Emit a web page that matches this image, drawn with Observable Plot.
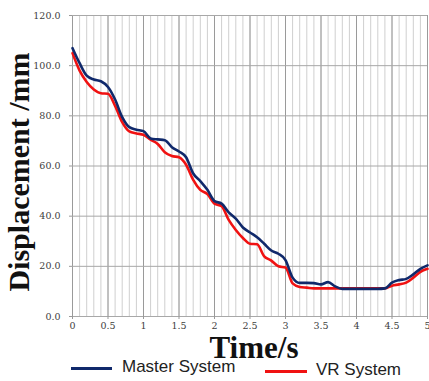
<!DOCTYPE html>
<html>
<head>
<meta charset="utf-8">
<script src="https://cdn.jsdelivr.net/npm/d3@7"></script>
<script src="https://cdn.jsdelivr.net/npm/@observablehq/plot@0.6"></script>
<style>
  html, body { margin: 0; padding: 0; background: #fff; }
  #wrap { position: relative; width: 429px; height: 381px; }
  .leg { position: absolute; font-family: "Liberation Sans", Arial, sans-serif; font-size: 17px; color: #222; line-height: 1; }
  .sw { position: absolute; height: 3px; }
</style>
</head>
<body>
<div id="wrap"></div>
<script>
const time = [0,0.1,0.2,0.3,0.4,0.5,0.6,0.7,0.8,0.9,1.0,1.1,1.2,1.3,1.4,1.5,1.6,1.7,1.8,1.9,2.0,2.1,2.2,2.3,2.4,2.5,2.6,2.7,2.8,2.9,3.0,3.1,3.2,3.3,3.4,3.5,3.6,3.7,3.8,3.9,4.0,4.1,4.2,4.3,4.4,4.5,4.6,4.7,4.8,4.9,5.0];
const master = [107,101,96,94.5,93.8,91.5,86.5,79.5,75.5,74.5,73.9,71,70.6,70.3,67.5,65.8,63.5,57,54,50.5,46,45,41.5,39,35.5,33.5,31.6,29,26.3,25,22.5,15.5,13.4,13.4,13.3,12.8,13.7,12,11,11,11,11,11,11,11.2,13.5,14.5,15,16.8,19,20.4];
const vr = [105,98,93.5,90.5,89,88.8,84,77.5,73.8,73,72.4,70.5,68.8,65.5,64,63.5,60.5,54.5,50.5,48.8,45,44,38.5,34.5,31.3,29,28.8,24,22.3,20,19.5,13.2,11.8,11.5,11.2,11.2,11.2,11.2,11.2,11.2,11.2,11.2,11.2,11.2,11.2,12.3,12.8,13.5,15.5,17.8,19.0];
const seriesNames = ["Master System", "VR System"];
const seriesColors = ["#10296b", "#f01212"];
const yTicks = [0,20,40,60,80,100,120];
const xTicks = [0,0.5,1,1.5,2,2.5,3,3.5,4,4.5,5];
const xMinor = d3.range(0, 51).map(i => i / 10);
const xTitle = ["Time/s"];
const yTitle = ["Displacement /mm"];

const rows = [];
time.forEach((t, i) => {
  rows.push({t, v: master[i], s: seriesNames[0]});
  rows.push({t, v: vr[i], s: seriesNames[1]});
});

const chart = Plot.plot({
  width: 429,
  height: 358,
  marginLeft: 72,
  marginRight: 2,
  marginTop: 15,
  marginBottom: 42,
  x: {domain: [0, 5]},
  y: {domain: [0, 120]},
  style: {fontFamily: "'DejaVu Serif', serif", fontSize: "9.5px", color: "#404040", background: "#fff", overflow: "visible"},
  marks: [
    Plot.gridX(xMinor, {stroke: "#cfcfcf", strokeOpacity: 1, strokeWidth: 1}),
    Plot.gridX(xTicks, {stroke: "#9a9a9a", strokeOpacity: 1, strokeWidth: 1}),
    Plot.gridY(yTicks, {stroke: "#a8a8a8", strokeOpacity: 1, strokeWidth: 1}),
    Plot.axisY(yTicks, {tickSize: 3, tickPadding: 9, tickFormat: d3.format(".1f"), label: null, stroke: "#999"}),
    Plot.axisX(xTicks, {tickSize: 3, tickPadding: 3, tickFormat: d => String(d), label: null, stroke: "#999"}),
    Plot.line(rows.filter(d => d.s === seriesNames[1]), {x: "t", y: "v", stroke: seriesColors[1], strokeWidth: 2.6, curve: "monotone-x"}),
    Plot.line(rows.filter(d => d.s === seriesNames[0]), {x: "t", y: "v", stroke: seriesColors[0], strokeWidth: 2.6, curve: "monotone-x"}),
    Plot.text(xTitle, {frameAnchor: "bottom", text: d => d, textAnchor: "middle", dx: 4, dy: 19, lineAnchor: "top", fontSize: 31, fontWeight: "bold", fontFamily: "'Liberation Serif', 'Times New Roman', serif", fill: "#111"}),
    Plot.text(yTitle, {frameAnchor: "left", text: d => d, textAnchor: "middle", rotate: -90, dx: -53, dy: 6, fontSize: 30, fontWeight: "bold", fontFamily: "'Liberation Serif', 'Times New Roman', serif", fill: "#111"})
  ]
});

const wrap = document.getElementById("wrap");
wrap.appendChild(chart);

const legendPos = [
  {lx: 71, lw: 41, ly: 367, tx: 122},
  {lx: 265, lw: 42, ly: 370, tx: 316}
];
seriesNames.forEach((name, i) => {
  const p = legendPos[i];
  const sw = document.createElement("div");
  sw.className = "sw";
  sw.style.left = p.lx + "px";
  sw.style.top = p.ly + "px";
  sw.style.width = p.lw + "px";
  sw.style.background = seriesColors[i];
  wrap.appendChild(sw);
  const t = document.createElement("div");
  t.className = "leg";
  t.style.left = p.tx + "px";
  t.style.top = (p.ly - 9) + "px";
  t.textContent = name;
  wrap.appendChild(t);
});
</script>
</body>
</html>
